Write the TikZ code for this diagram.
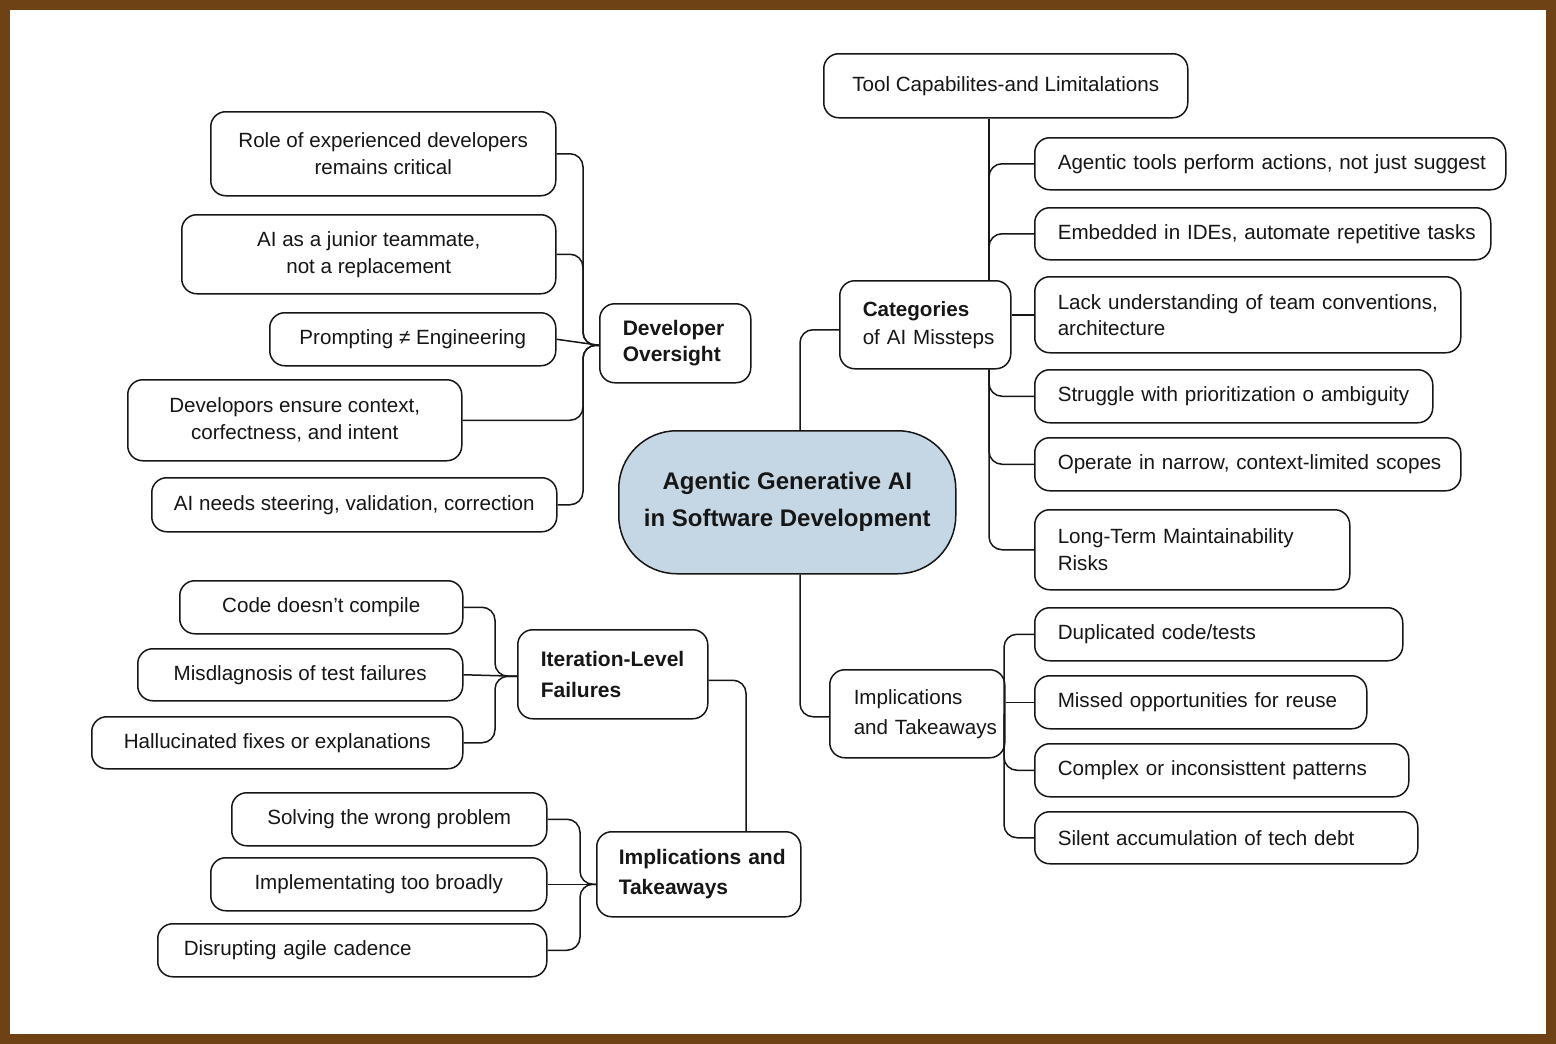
\documentclass[tikz,border=0pt]{standalone}
\usepackage{fontspec}
\setmainfont{Liberation Sans}
\usetikzlibrary{calc}
\definecolor{brd}{RGB}{111,66,22}
\definecolor{hub}{RGB}{197,214,228}
\definecolor{ink}{RGB}{22,22,22}
\begin{document}
\begin{tikzpicture}[x=1pt,y=-1pt,
  box/.style={draw=ink, line width=1.5pt, rounded corners=15pt, inner sep=0pt, anchor=north west, align=center, text=ink, font=\fontsize{20.6}{27}\selectfont},
  lbox/.style={box, align=left, text width=#1},
  conn/.style={draw=ink, line width=1.5pt, rounded corners=13pt},
]
\useasboundingbox (0,0) rectangle (1556,1044);
\fill[brd] (0,0) rectangle (1556,1044);
\fill[white] (10,10) rectangle (1546,1034);

% hub
\node[box, fill=hub, rounded corners=58pt, minimum width=337pt, minimum height=143pt, font=\bfseries\fontsize{24}{37}\selectfont] (hub) at (618,430) {Agentic Generative AI\\in Software Development};

% developer oversight
\node[lbox=105pt, minimum width=151pt, minimum height=79pt, font=\bfseries\fontsize{21}{26}\selectfont] (dev) at (599,303) {\mbox{Developer}\\\mbox{Oversight}};
\node[box, minimum width=345pt, minimum height=84pt] (r1) at (210,111) {Role of experienced developers\\remains critical};
\node[box, minimum width=374pt, minimum height=79pt] (r2) at (181,214) {AI as a junior teammate,\\not a replacement};
\node[box, minimum width=286pt, minimum height=53pt] (r3) at (269,312) {Prompting ≠ Engineering};
\node[box, minimum width=334pt, minimum height=81pt] (r4) at (127,379) {Developors ensure context,\\corfectness, and intent};
\node[box, minimum width=405pt, minimum height=54pt] (r5) at (151,477) {AI needs steering, validation, correction};

% tool capabilities / categories
\node[box, minimum width=364pt, minimum height=64pt] (tool) at (823,53) {Tool Capabilites-and Limitalations};
\node[lbox=125pt, minimum width=171pt, minimum height=88pt, font=\fontsize{20.6}{28}\selectfont] (cat) at (839,280) {\mbox{\bfseries Categories}\\\mbox{of AI Missteps}};
\node[lbox=425pt, minimum width=471pt, minimum height=52pt] (ag) at (1034,137) {\mbox{Agentic tools perform actions, not just suggest}};
\node[lbox=410pt, minimum width=456pt, minimum height=52pt] (em) at (1034,207) {\mbox{Embedded in IDEs, automate repetitive tasks}};
\node[lbox=380pt, minimum width=426pt, minimum height=76pt, font=\fontsize{20.6}{26}\selectfont] (lack) at (1034,276) {\mbox{Lack understanding of team conventions,}\\\mbox{architecture}};
\node[lbox=352pt, minimum width=398pt, minimum height=53pt] (st) at (1034,369) {\mbox{Struggle with prioritization o ambiguity}};
\node[lbox=380pt, minimum width=426pt, minimum height=53pt] (op) at (1034,437) {\mbox{Operate in narrow, context-limited scopes}};
\node[lbox=269pt, minimum width=315pt, minimum height=80pt] (lt) at (1034,509) {\mbox{Long-Term Maintainability}\\\mbox{Risks}};

% implications (right)
\node[lbox=127pt, minimum width=175pt, minimum height=88pt, font=\fontsize{20.6}{30}\selectfont] (impR) at (829,669) {\mbox{Implications}\\\mbox{and Takeaways}};
\node[lbox=322pt, minimum width=368pt, minimum height=53pt] (dup) at (1034,607) {\mbox{Duplicated code/tests}};
\node[lbox=286pt, minimum width=332pt, minimum height=53pt] (mis) at (1034,675) {\mbox{Missed opportunities for reuse}};
\node[lbox=328pt, minimum width=374pt, minimum height=53pt] (cx) at (1034,743) {\mbox{Complex or inconsisttent patterns}};
\node[lbox=337pt, minimum width=383pt, minimum height=52pt] (si) at (1034,811) {\mbox{Silent accumulation of tech debt}};

% iteration-level failures
\node[lbox=144pt, minimum width=190pt, minimum height=89pt, font=\bfseries\fontsize{21}{31}\selectfont] (iter) at (517,629) {\mbox{Iteration-Level}\\\mbox{Failures}};
\node[box, minimum width=283pt, minimum height=53pt] (c1) at (179,580) {Code doesn’t compile};
\node[box, minimum width=325pt, minimum height=52pt] (c2) at (137,648) {Misdlagnosis of test failures};
\node[box, minimum width=371pt, minimum height=52pt] (c3) at (91,716) {Hallucinated fixes or explanations};

% implications (left)
\node[lbox=160pt, minimum width=204pt, minimum height=85pt, font=\bfseries\fontsize{21}{30}\selectfont] (impL) at (596,831) {\mbox{Implications and}\\\mbox{Takeaways}};
\node[box, minimum width=315pt, minimum height=53pt] (s1) at (231,792) {Solving the wrong problem};
\node[box, minimum width=336pt, minimum height=53pt] (s2) at (210,857) {Implementating too broadly};
\node[lbox=337pt, minimum width=389pt, minimum height=53pt] (s3) at (157,923) {\mbox{Disrupting agile cadence}};

% bus coordinates
\coordinate (busD) at (583,0);
\coordinate (busC) at (800,0);
\coordinate (busR) at (989,0);
\coordinate (busI) at (1004,0);
\coordinate (busF) at (495,0);
\coordinate (busL) at (580,0);
\coordinate (busT) at (746,0);
\coordinate (jD) at ([yshift=-2pt]dev.west);
\coordinate (jF) at ([yshift=-2pt]iter.west);
\coordinate (jL) at ([yshift=-10pt]impL.west);

% developer connectors
\draw[conn] (r1.east) -| (busD |- jD) -- (jD);
\draw[conn] (r2.east) -| (busD |- jD) -- (jD);
\draw[conn] (r3.east) -- (jD);
\draw[conn] (r4.east) -| (busD |- jD) -- (jD);
\draw[conn] (r5.east) -| (busD |- jD) -- (jD);

% hub connectors
\draw[conn] (busC |- hub.north) |- ([yshift=-5pt]cat.west);
\draw[conn] (busC |- hub.south) |- ([yshift=-3pt]impR.west);

% tool / categories connectors
\draw[conn] (busR |- tool.south) -- (busR |- cat.north);
\draw[conn] (busR |- cat.north) |- (ag.west);
\draw[conn] (busR |- cat.north) |- (em.west);
\draw[conn] (cat.east |- lack.west) -- (lack.west);
\draw[conn] (busR |- cat.south) |- (st.west);
\draw[conn] (busR |- cat.south) |- (op.west);
\draw[conn] (busR |- cat.south) |- (lt.west);

% implications right connectors
\draw[conn] (busI |- impR.center) |- (dup.west);
\draw[conn] (impR.east |- mis.west) -- (mis.west);
\draw[conn] (busI |- impR.center) |- (cx.west);
\draw[conn] (busI |- impR.center) |- (si.west);

% iteration connectors
\draw[conn] (c1.east) -| (busF |- jF) -- (jF);
\draw[conn] (c2.east) -- (jF);
\draw[conn] (c3.east) -| (busF |- jF) -- (jF);
\draw[conn] ([yshift=-6pt]iter.east) -| (busT |- impL.north);

% implications left connectors
\draw[conn] (s1.east) -| (busL |- jL) -- (jL);
\draw[conn] (s2.east) -- (jL);
\draw[conn] (s3.east) -| (busL |- jL) -- (jL);
\end{tikzpicture}
\end{document}
